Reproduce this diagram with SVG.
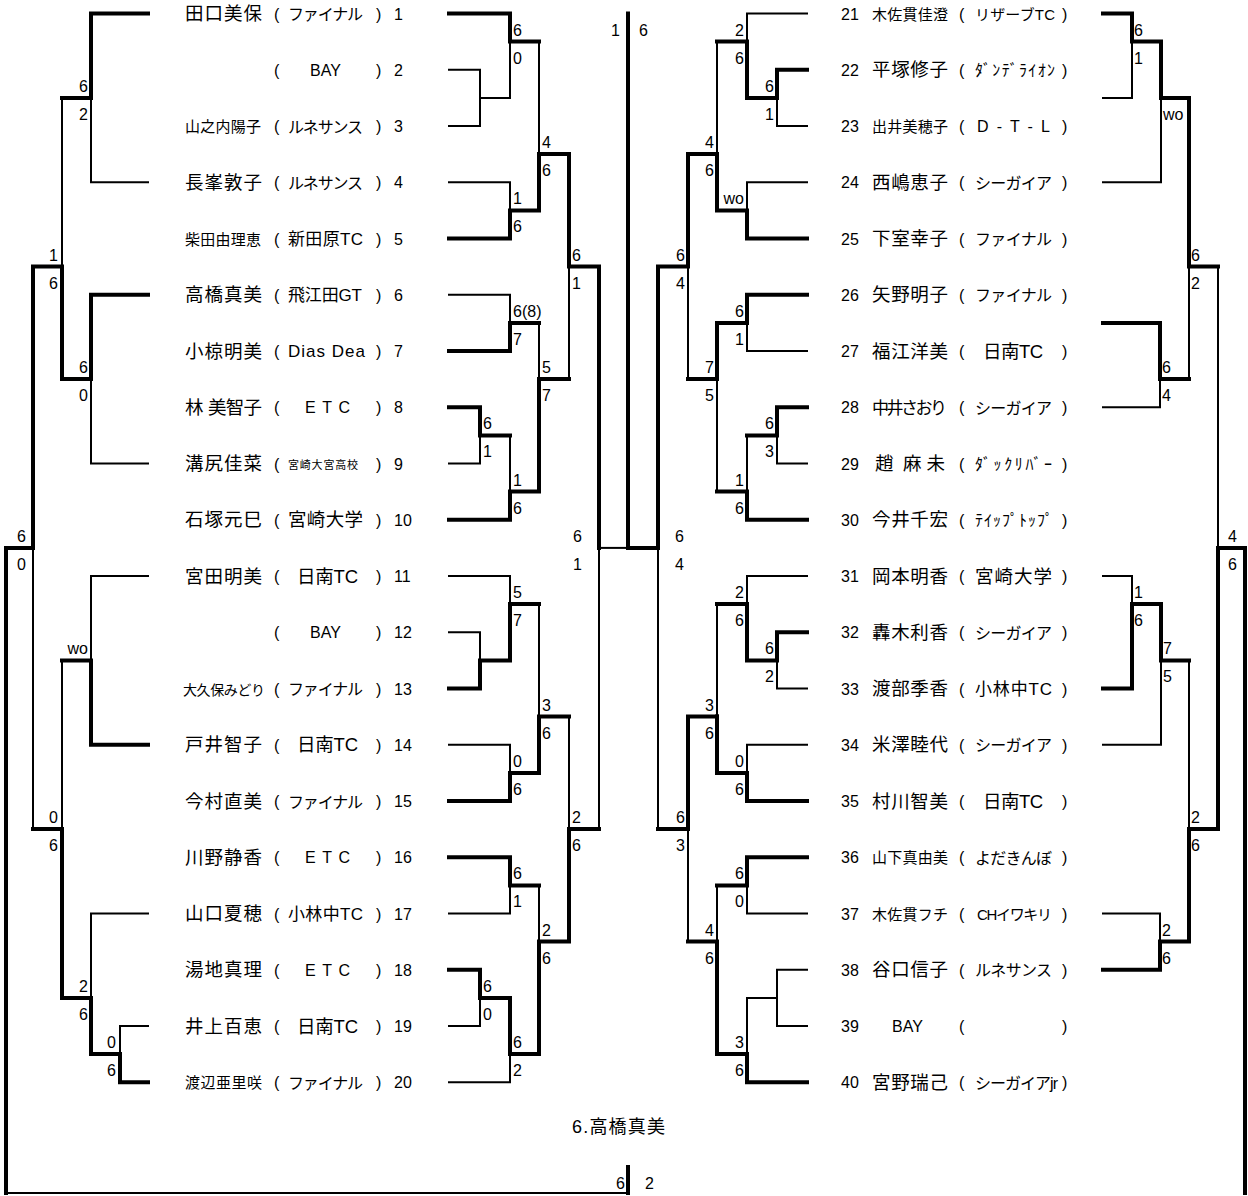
<svg xmlns="http://www.w3.org/2000/svg" width="1248" height="1196" viewBox="0 0 1248 1196">
<style>
text{font-family:"Liberation Sans","Noto Sans CJK JP",sans-serif;fill:#000;font-size:16px}
.nL{font-size:18.5px}
.nS{font-size:15px}
.cl{font-size:16px}
.hk{font-size:16px}
.T{stroke:#000;stroke-width:4;fill:none;stroke-linecap:square;stroke-linejoin:miter}
.t{stroke:#000;stroke-width:2;fill:none;stroke-linecap:square}
.e{text-anchor:end}
</style>
<rect width="1248" height="1196" fill="#fff"/>
<g id="connectors">
<g class="T">
<path d="M449 13.5H510V41.6H539"/>
<path d="M449 238.5H510V210.4H539V154.1H569V266.6H599V547.9"/>
<path d="M449 351H510V322.9H539"/>
<path d="M449 519.75H510V491.6H539V379.1H569"/>
<path d="M449 407.25H480V435.4H510"/>
<path d="M628 13.5V547.9H658V266.6H688V154.1H717V210.4H747V238.5H807"/>
<path d="M449 688.5H480V660.4H510V604.1H539"/>
<path d="M449 801H510V772.9H539V716.6H569"/>
<path d="M599 829.1H569V941.6H539V1054.1H510V997.9H480V969.75H449"/>
<path d="M449 857.25H510V885.4H539"/>
<path d="M717 41.6H747V97.9H777V69.75H807"/>
<path d="M807 294.75H747V322.9H717V379.1H688"/>
<path d="M717 491.6H747V519.75H807"/>
<path d="M747 435.4H777V407.25H807"/>
<path d="M807 632.25H777V660.4H747V604.1H717"/>
<path d="M717 716.6H688V829.1H658"/>
<path d="M717 716.6V772.9H747V801H807"/>
<path d="M688 941.6H717V1054.1H747V1082.25H807"/>
<path d="M717 885.4H747V857.25H807"/>
<path d="M148 13.5H91V97.9H62"/>
<path d="M148 294.75H91V379.1H62V266.6H33V547.9H6V1193"/>
<path d="M33 829.1H62V997.9H91V1054.1H120V1082.25H148"/>
<path d="M62 660.4H91V744.75H148"/>
<path d="M628 1167V1193"/>
<path d="M1103 13.5H1132V41.6H1161V97.9H1189V266.6H1218"/>
<path d="M1103 322.9H1160V379.1H1189"/>
<path d="M1218 547.9H1245V1193"/>
<path d="M1218 547.9V829.1H1189V941.6H1160V969.75H1103"/>
<path d="M1189 660.4H1161V604.1H1132V688.5H1103"/>
</g>
<g class="t">
<path d="M510 41.6V97.9H480"/>
<path d="M449 69.75H480V126H449"/>
<path d="M539 41.6V154.1"/>
<path d="M449 182.25H510V210.4"/>
<path d="M449 294.75H510V322.9"/>
<path d="M539 322.9V379.1"/>
<path d="M569 266.6V379.1"/>
<path d="M449 463.5H480V435.4"/>
<path d="M510 435.4V491.6"/>
<path d="M599 547.9H628"/>
<path d="M449 576H510V604.1"/>
<path d="M449 632.25H480V660.4"/>
<path d="M539 604.1V716.6"/>
<path d="M569 716.6V829.1"/>
<path d="M449 744.75H510V772.9"/>
<path d="M599 547.9V829.1"/>
<path d="M539 885.4V941.6"/>
<path d="M449 913.5H510V885.4"/>
<path d="M449 1026H480V997.9"/>
<path d="M449 1082.25H510V1054.1"/>
<path d="M807 13.5H747V41.6"/>
<path d="M777 97.9V126H807"/>
<path d="M717 41.6V154.1"/>
<path d="M807 182.25H747V210.4"/>
<path d="M807 351H747V322.9"/>
<path d="M688 266.6V379.1"/>
<path d="M717 379.1V491.6"/>
<path d="M777 435.4V463.5H807"/>
<path d="M747 435.4V491.6"/>
<path d="M807 576H747V604.1"/>
<path d="M777 660.4V688.5H807"/>
<path d="M717 604.1V716.6"/>
<path d="M807 744.75H747V772.9"/>
<path d="M658 547.9V829.1"/>
<path d="M688 829.1V941.6"/>
<path d="M717 941.6V885.4"/>
<path d="M747 885.4V913.5H807"/>
<path d="M747 1054.1V997.9H777"/>
<path d="M807 969.75H777V1026H807"/>
<path d="M91 97.9V182.25H148"/>
<path d="M62 97.9V266.6"/>
<path d="M91 379.1V463.5H148"/>
<path d="M33 547.9V829.1"/>
<path d="M62 829.1V660.4"/>
<path d="M91 660.4V576H148"/>
<path d="M91 997.9V913.5H148"/>
<path d="M120 1054.1V1026H148"/>
<path d="M6 1193H628"/>
<path d="M1103 97.9H1132V41.6"/>
<path d="M1161 97.9V182.25H1103"/>
<path d="M1218 266.6V547.9"/>
<path d="M1189 266.6V379.1"/>
<path d="M1160 379.1V407.25H1103"/>
<path d="M1160 941.6V913.5H1103"/>
<path d="M1189 829.1V660.4"/>
<path d="M1132 604.1V576H1103"/>
<path d="M1161 660.4V744.75H1103"/>
</g>
</g>
<g id="scores">
<text x="513" y="35.6">6</text><text x="513" y="63.6">0</text>
<text x="542" y="148.1">4</text><text x="542" y="176.1">6</text>
<text x="513" y="204.4">1</text><text x="513" y="232.4">6</text>
<text x="572" y="260.6">6</text><text x="572" y="288.6">1</text>
<text x="513" y="316.9">6(8)</text><text x="513" y="344.9">7</text>
<text x="542" y="373.1">5</text><text x="542" y="401.1">7</text>
<text x="483" y="429.4">6</text><text x="483" y="457.4">1</text>
<text x="513" y="485.6">1</text><text x="513" y="513.6">6</text>
<text x="513" y="598.1">5</text><text x="513" y="626.1">7</text>
<text x="542" y="710.6">3</text><text x="542" y="738.6">6</text>
<text x="513" y="766.9">0</text><text x="513" y="794.9">6</text>
<text x="572" y="823.1">2</text><text x="572" y="851.1">6</text>
<text x="513" y="879.4">6</text><text x="513" y="907.4">1</text>
<text x="542" y="935.6">2</text><text x="542" y="963.6">6</text>
<text x="483" y="991.9">6</text><text x="483" y="1019.9">0</text>
<text x="513" y="1048.1">6</text><text x="513" y="1076.1">2</text>
<text class="e" x="620" y="35.6">1</text><text x="639" y="35.6">6</text>
<text x="573" y="541.9">6</text><text x="573" y="569.9">1</text>
<text x="675" y="541.9">6</text><text x="675" y="569.9">4</text>
<text class="e" x="625" y="1189">6</text><text x="645" y="1189">2</text>
<text class="e" x="88" y="91.9">6</text><text class="e" x="88" y="119.9">2</text>
<text class="e" x="58" y="260.6">1</text><text class="e" x="58" y="288.6">6</text>
<text class="e" x="88" y="373.1">6</text><text class="e" x="88" y="401.1">0</text>
<text class="e" x="26" y="541.9">6</text><text class="e" x="26" y="569.9">0</text>
<text class="e" x="88" y="654.4">wo</text>
<text class="e" x="58" y="823.1">0</text><text class="e" x="58" y="851.1">6</text>
<text class="e" x="88" y="991.9">2</text><text class="e" x="88" y="1019.9">6</text>
<text class="e" x="116" y="1048.1">0</text><text class="e" x="116" y="1076.1">6</text>
<text class="e" x="744" y="35.6">2</text><text class="e" x="744" y="63.6">6</text>
<text class="e" x="774" y="91.9">6</text><text class="e" x="774" y="119.9">1</text>
<text class="e" x="714" y="148.1">4</text><text class="e" x="714" y="176.1">6</text>
<text class="e" x="744" y="204.4">wo</text>
<text class="e" x="685" y="260.6">6</text><text class="e" x="685" y="288.6">4</text>
<text class="e" x="744" y="316.9">6</text><text class="e" x="744" y="344.9">1</text>
<text class="e" x="714" y="373.1">7</text><text class="e" x="714" y="401.1">5</text>
<text class="e" x="774" y="429.4">6</text><text class="e" x="774" y="457.4">3</text>
<text class="e" x="744" y="485.6">1</text><text class="e" x="744" y="513.6">6</text>
<text class="e" x="744" y="598.1">2</text><text class="e" x="744" y="626.1">6</text>
<text class="e" x="774" y="654.4">6</text><text class="e" x="774" y="682.4">2</text>
<text class="e" x="714" y="710.6">3</text><text class="e" x="714" y="738.6">6</text>
<text class="e" x="744" y="766.9">0</text><text class="e" x="744" y="794.9">6</text>
<text class="e" x="685" y="823.1">6</text><text class="e" x="685" y="851.1">3</text>
<text class="e" x="744" y="879.4">6</text><text class="e" x="744" y="907.4">0</text>
<text class="e" x="714" y="935.6">4</text><text class="e" x="714" y="963.6">6</text>
<text class="e" x="744" y="1048.1">3</text><text class="e" x="744" y="1076.1">6</text>
<text x="1134" y="35.6">6</text><text x="1134" y="63.6">1</text>
<text x="1163" y="119.9">wo</text>
<text x="1191" y="260.6">6</text><text x="1191" y="288.6">2</text>
<text x="1162" y="373.1">6</text><text x="1162" y="401.1">4</text>
<text x="1228" y="541.9">4</text><text x="1228" y="569.9">6</text>
<text x="1134" y="598.1">1</text><text x="1134" y="626.1">6</text>
<text x="1163" y="654.4">7</text><text x="1163" y="682.4">5</text>
<text x="1191" y="823.1">2</text><text x="1191" y="851.1">6</text>
<text x="1162" y="935.6">2</text><text x="1162" y="963.6">6</text>
</g>
<g id="p1"><text class="nL" x="185" y="20" textLength="77" lengthAdjust="spacing">田口美保</text><text x="274" y="19.5">(</text><text class="cl" x="288" y="20" textLength="75" lengthAdjust="spacing">ファイナル</text><text x="376" y="19.5">)</text><text x="394" y="19.5">1</text></g>
<g id="p2"><text x="274" y="75.75">(</text><text x="310" y="75.75">BAY</text><text x="376" y="75.75">)</text><text x="394" y="75.75">2</text></g>
<g id="p3"><text class="nS" x="185" y="132" textLength="76" lengthAdjust="spacing">山之内陽子</text><text x="274" y="132">(</text><text class="cl" x="288" y="132.5" textLength="75" lengthAdjust="spacing">ルネサンス</text><text x="376" y="132">)</text><text x="394" y="132">3</text></g>
<g id="p4"><text class="nL" x="185" y="188.75" textLength="77" lengthAdjust="spacing">長峯敦子</text><text x="274" y="188.25">(</text><text class="cl" x="288" y="188.75" textLength="75" lengthAdjust="spacing">ルネサンス</text><text x="376" y="188.25">)</text><text x="394" y="188.25">4</text></g>
<g id="p5"><text class="nS" x="185" y="244.5" textLength="76" lengthAdjust="spacing">柴田由理恵</text><text x="274" y="244.5">(</text><text x="288" y="245" style="font-size:17px" textLength="75" lengthAdjust="spacing">新田原TC</text><text x="376" y="244.5">)</text><text x="394" y="244.5">5</text></g>
<g id="p6"><text class="nL" x="185" y="301.25" textLength="77" lengthAdjust="spacing">高橋真美</text><text x="274" y="300.75">(</text><text x="288" y="301" style="font-size:17px" textLength="74" lengthAdjust="spacing">飛江田GT</text><text x="376" y="300.75">)</text><text x="394" y="300.75">6</text></g>
<g id="p7"><text class="nL" x="185" y="357.5" textLength="77" lengthAdjust="spacing">小椋明美</text><text x="274" y="357">(</text><text x="288" y="357" style="font-size:17px" textLength="77" lengthAdjust="spacing">Dias Dea</text><text x="376" y="357">)</text><text x="394" y="357">7</text></g>
<g id="p8"><text class="nL" x="185" y="413.75">林</text><text class="nL" x="208" y="413.75" textLength="54" lengthAdjust="spacing">美智子</text><text x="274" y="413.25">(</text><text class="cl" x="305" y="413.25" textLength="45" lengthAdjust="spacing">E T C</text><text x="376" y="413.25">)</text><text x="394" y="413.25">8</text></g>
<g id="p9"><text class="nL" x="185" y="470" textLength="77" lengthAdjust="spacing">溝尻佳菜</text><text x="274" y="469.5">(</text><text x="288" y="468.5" style="font-size:11px" textLength="70" lengthAdjust="spacing">宮崎大宮高校</text><text x="376" y="469.5">)</text><text x="394" y="469.5">9</text></g>
<g id="p10"><text class="nL" x="185" y="526.25" textLength="77" lengthAdjust="spacing">石塚元巳</text><text x="274" y="525.75">(</text><text class="nL" x="288" y="526.25" textLength="75" lengthAdjust="spacing">宮崎大学</text><text x="376" y="525.75">)</text><text x="394" y="525.75">10</text></g>
<g id="p11"><text class="nL" x="185" y="582.5" textLength="77" lengthAdjust="spacing">宮田明美</text><text x="274" y="582">(</text><text class="nL" x="297" y="582.5" textLength="61" lengthAdjust="spacing">日南TC</text><text x="376" y="582">)</text><text x="394" y="582">11</text></g>
<g id="p12"><text x="274" y="638.25">(</text><text x="310" y="638.25">BAY</text><text x="376" y="638.25">)</text><text x="394" y="638.25">12</text></g>
<g id="p13"><text x="183" y="694.5" style="font-size:14px" textLength="82" lengthAdjust="spacing">大久保みどり</text><text x="274" y="694.5">(</text><text class="cl" x="288" y="695" textLength="75" lengthAdjust="spacing">ファイナル</text><text x="376" y="694.5">)</text><text x="394" y="694.5">13</text></g>
<g id="p14"><text class="nL" x="185" y="751.25" textLength="77" lengthAdjust="spacing">戸井智子</text><text x="274" y="750.75">(</text><text class="nL" x="297" y="751.25" textLength="61" lengthAdjust="spacing">日南TC</text><text x="376" y="750.75">)</text><text x="394" y="750.75">14</text></g>
<g id="p15"><text class="nL" x="185" y="807.5" textLength="77" lengthAdjust="spacing">今村直美</text><text x="274" y="807">(</text><text class="cl" x="288" y="807.5" textLength="75" lengthAdjust="spacing">ファイナル</text><text x="376" y="807">)</text><text x="394" y="807">15</text></g>
<g id="p16"><text class="nL" x="185" y="863.75" textLength="77" lengthAdjust="spacing">川野静香</text><text x="274" y="863.25">(</text><text class="cl" x="305" y="863.25" textLength="45" lengthAdjust="spacing">E T C</text><text x="376" y="863.25">)</text><text x="394" y="863.25">16</text></g>
<g id="p17"><text class="nL" x="185" y="920" textLength="77" lengthAdjust="spacing">山口夏穂</text><text x="274" y="919.5">(</text><text x="288" y="920" style="font-size:17px" textLength="75" lengthAdjust="spacing">小林中TC</text><text x="376" y="919.5">)</text><text x="394" y="919.5">17</text></g>
<g id="p18"><text class="nL" x="185" y="976.25" textLength="77" lengthAdjust="spacing">湯地真理</text><text x="274" y="975.75">(</text><text class="cl" x="305" y="975.75" textLength="45" lengthAdjust="spacing">E T C</text><text x="376" y="975.75">)</text><text x="394" y="975.75">18</text></g>
<g id="p19"><text class="nL" x="185" y="1032.5" textLength="77" lengthAdjust="spacing">井上百恵</text><text x="274" y="1032">(</text><text class="nL" x="297" y="1032.5" textLength="61" lengthAdjust="spacing">日南TC</text><text x="376" y="1032">)</text><text x="394" y="1032">19</text></g>
<g id="p20"><text class="nS" x="185" y="1088.25" textLength="77" lengthAdjust="spacing">渡辺亜里咲</text><text x="274" y="1088.25">(</text><text class="cl" x="288" y="1088.75" textLength="75" lengthAdjust="spacing">ファイナル</text><text x="376" y="1088.25">)</text><text x="394" y="1088.25">20</text></g>
<g id="p21"><text x="841" y="19.5">21</text><text class="nS" x="872" y="19.5" textLength="76" lengthAdjust="spacing">木佐貫佳澄</text><text x="959" y="19.5">(</text><text class="nS" x="975" y="19.5" textLength="80" lengthAdjust="spacing">リザーブTC</text><text x="1062" y="19.5">)</text></g>
<g id="p22"><text x="841" y="75.75">22</text><text class="nL" x="872" y="76.25" textLength="76" lengthAdjust="spacing">平塚修子</text><text x="959" y="75.75">(</text><text class="hk" x="975" y="75.75" textLength="80" lengthAdjust="spacing">ﾀﾞﾝﾃﾞﾗｲｵﾝ</text><text x="1062" y="75.75">)</text></g>
<g id="p23"><text x="841" y="132">23</text><text class="nS" x="872" y="132" textLength="76" lengthAdjust="spacing">出井美穂子</text><text x="959" y="132">(</text><text class="cl" x="977" y="132" textLength="73" lengthAdjust="spacing">D - T - L</text><text x="1062" y="132">)</text></g>
<g id="p24"><text x="841" y="188.25">24</text><text class="nL" x="872" y="188.75" textLength="76" lengthAdjust="spacing">西嶋恵子</text><text x="959" y="188.25">(</text><text class="cl" x="975" y="188.75" textLength="77" lengthAdjust="spacing">シーガイア</text><text x="1062" y="188.25">)</text></g>
<g id="p25"><text x="841" y="244.5">25</text><text class="nL" x="872" y="245" textLength="76" lengthAdjust="spacing">下室幸子</text><text x="959" y="244.5">(</text><text class="cl" x="975" y="245" textLength="77" lengthAdjust="spacing">ファイナル</text><text x="1062" y="244.5">)</text></g>
<g id="p26"><text x="841" y="300.75">26</text><text class="nL" x="872" y="301.25" textLength="76" lengthAdjust="spacing">矢野明子</text><text x="959" y="300.75">(</text><text class="cl" x="975" y="301.25" textLength="77" lengthAdjust="spacing">ファイナル</text><text x="1062" y="300.75">)</text></g>
<g id="p27"><text x="841" y="357">27</text><text class="nL" x="872" y="357.5" textLength="76" lengthAdjust="spacing">福江洋美</text><text x="959" y="357">(</text><text class="nL" x="983" y="357.5" textLength="60" lengthAdjust="spacing">日南TC</text><text x="1062" y="357">)</text></g>
<g id="p28"><text x="841" y="413.25">28</text><text x="872" y="413.75" style="font-size:17px" textLength="75" lengthAdjust="spacing">中井さおり</text><text x="959" y="413.25">(</text><text class="cl" x="975" y="413.75" textLength="77" lengthAdjust="spacing">シーガイア</text><text x="1062" y="413.25">)</text></g>
<g id="p29"><text x="841" y="469.5">29</text><text class="nL" x="875" y="470">趙</text><text class="nL" x="903" y="470" textLength="42" lengthAdjust="spacing">麻未</text><text x="959" y="469.5">(</text><text class="hk" x="975" y="469.5" textLength="77" lengthAdjust="spacing">ﾀﾞｯｸﾘﾊﾞｰ</text><text x="1062" y="469.5">)</text></g>
<g id="p30"><text x="841" y="525.75">30</text><text class="nL" x="872" y="526.25" textLength="76" lengthAdjust="spacing">今井千宏</text><text x="959" y="525.75">(</text><text class="hk" x="975" y="525.75" textLength="78" lengthAdjust="spacing">ﾃｲｯﾌﾟﾄｯﾌﾟ</text><text x="1062" y="525.75">)</text></g>
<g id="p31"><text x="841" y="582">31</text><text class="nL" x="872" y="582.5" textLength="76" lengthAdjust="spacing">岡本明香</text><text x="959" y="582">(</text><text class="nL" x="975" y="582.5" textLength="77" lengthAdjust="spacing">宮崎大学</text><text x="1062" y="582">)</text></g>
<g id="p32"><text x="841" y="638.25">32</text><text class="nL" x="872" y="638.75" textLength="76" lengthAdjust="spacing">轟木利香</text><text x="959" y="638.25">(</text><text class="cl" x="975" y="638.75" textLength="77" lengthAdjust="spacing">シーガイア</text><text x="1062" y="638.25">)</text></g>
<g id="p33"><text x="841" y="694.5">33</text><text class="nL" x="872" y="695" textLength="76" lengthAdjust="spacing">渡部季香</text><text x="959" y="694.5">(</text><text x="975" y="695" style="font-size:17px" textLength="77" lengthAdjust="spacing">小林中TC</text><text x="1062" y="694.5">)</text></g>
<g id="p34"><text x="841" y="750.75">34</text><text class="nL" x="872" y="751.25" textLength="76" lengthAdjust="spacing">米澤睦代</text><text x="959" y="750.75">(</text><text class="cl" x="975" y="751.25" textLength="77" lengthAdjust="spacing">シーガイア</text><text x="1062" y="750.75">)</text></g>
<g id="p35"><text x="841" y="807">35</text><text class="nL" x="872" y="807.5" textLength="76" lengthAdjust="spacing">村川智美</text><text x="959" y="807">(</text><text class="nL" x="983" y="807.5" textLength="60" lengthAdjust="spacing">日南TC</text><text x="1062" y="807">)</text></g>
<g id="p36"><text x="841" y="863.25">36</text><text class="nS" x="872" y="863.25" textLength="76" lengthAdjust="spacing">山下真由美</text><text x="959" y="863.25">(</text><text class="cl" x="975" y="863.75" textLength="77" lengthAdjust="spacing">よだきんぼ</text><text x="1062" y="863.25">)</text></g>
<g id="p37"><text x="841" y="919.5">37</text><text class="nS" x="872" y="919.5" textLength="76" lengthAdjust="spacing">木佐貫フチ</text><text x="959" y="919.5">(</text><text class="nS" x="977" y="919.5" textLength="75" lengthAdjust="spacing">CHイワキリ</text><text x="1062" y="919.5">)</text></g>
<g id="p38"><text x="841" y="975.75">38</text><text class="nL" x="872" y="976.25" textLength="76" lengthAdjust="spacing">谷口信子</text><text x="959" y="975.75">(</text><text class="cl" x="975" y="976.25" textLength="77" lengthAdjust="spacing">ルネサンス</text><text x="1062" y="975.75">)</text></g>
<g id="p39"><text x="841" y="1032">39</text><text x="892" y="1032">BAY</text><text x="959" y="1032">(</text><text x="1062" y="1032">)</text></g>
<g id="p40"><text x="841" y="1088.25">40</text><text class="nL" x="872" y="1088.75" textLength="76" lengthAdjust="spacing">宮野瑞己</text><text x="959" y="1088.25">(</text><text class="cl" x="975" y="1088.75" textLength="83" lengthAdjust="spacing">シーガイアjr</text><text x="1062" y="1088.25">)</text></g>
<g id="winner"><text x="572" y="1133" style="font-size:18px" textLength="93" lengthAdjust="spacing">6.高橋真美</text></g>
</svg>
